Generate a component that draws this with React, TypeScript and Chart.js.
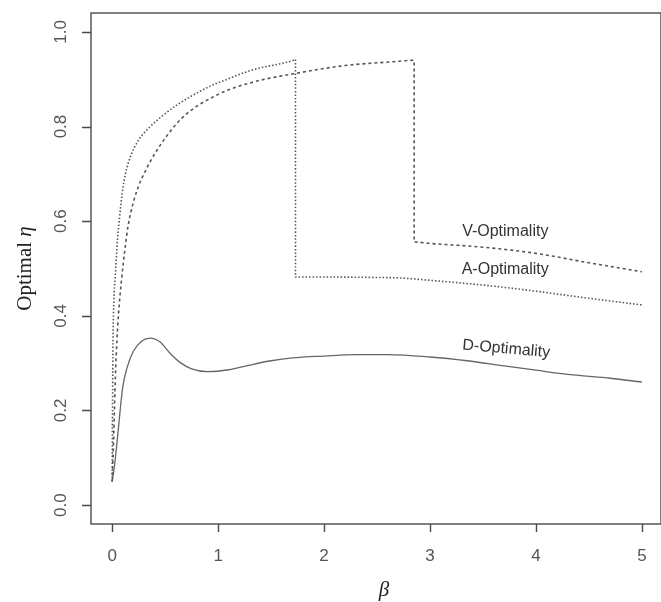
import React, { useEffect, useRef } from "react";
import { Chart, registerables } from "chart.js";

Chart.register(...registerables);

// A-Optimality (dotted, jumps at beta ~1.73)
const betaA = [0, 0.003, 0.008, 0.015, 0.028, 0.05, 0.075, 0.095, 0.125, 0.17, 0.245, 0.36, 0.47, 0.64, 0.76, 0.95, 1.04, 1.3, 1.4, 1.71, 1.73, 1.73, 2.0, 2.5, 2.72, 3.0, 3.5, 4.0, 4.5, 5.0];
const etaA = [0.05, 0.2, 0.35, 0.43, 0.48, 0.56, 0.62, 0.66, 0.7, 0.735, 0.77, 0.8, 0.822, 0.85, 0.866, 0.888, 0.896, 0.918, 0.924, 0.94, 0.942, 0.482, 0.482, 0.481, 0.48, 0.475, 0.465, 0.452, 0.437, 0.423];

// V-Optimality (dashed, jumps at beta ~2.85)
const betaV = [0, 0.015, 0.03, 0.045, 0.06, 0.09, 0.12, 0.15, 0.2, 0.25, 0.3, 0.4, 0.65, 1.0, 1.33, 1.7, 2.2, 2.65, 2.85, 2.85, 3.0, 3.5, 4.0, 4.5, 5.0];
const etaV = [0.05, 0.15, 0.27, 0.35, 0.405, 0.48, 0.54, 0.59, 0.64, 0.675, 0.7, 0.742, 0.816, 0.868, 0.894, 0.911, 0.929, 0.937, 0.94, 0.556, 0.553, 0.545, 0.532, 0.512, 0.493];

// D-Optimality (solid)
const betaD = [0, 0.02, 0.04, 0.075, 0.1, 0.14, 0.2, 0.28, 0.36, 0.45, 0.55, 0.65, 0.75, 0.9, 1.1, 1.3, 1.5, 1.7, 2.0, 2.3, 2.6, 3.0, 3.35, 3.7, 4.0, 4.35, 4.7, 5.0];
const etaD = [0.05, 0.08, 0.12, 0.2, 0.25, 0.29, 0.325, 0.347, 0.353, 0.345, 0.32, 0.3, 0.288, 0.282, 0.286, 0.296, 0.305, 0.311, 0.315, 0.318, 0.318, 0.313, 0.305, 0.294, 0.285, 0.275, 0.268, 0.26];

const xTicks = [0, 1, 2, 3, 4, 5];
const xTickLabels = ["0", "1", "2", "3", "4", "5"];
const yTicks = [0, 0.2, 0.4, 0.6, 0.8, 1.0];
const yTickLabels = ["0.0", "0.2", "0.4", "0.6", "0.8", "1.0"];

const curveLabels = ["V-Optimality", "A-Optimality", "D-Optimality"];
const curveLabelX = [3.71, 3.71, 3.72];
const curveLabelY = [0.579, 0.497, 0.33];

const xTitle = "β";
const yTitle = "Optimal ";
const yTitleSym = "η";

const toPts = (xs: number[], ys: number[]) => xs.map((v, i) => ({ x: v, y: ys[i] }));

const rAxesPlugin = {
  id: "rAxes",
  afterDraw(chart: any) {
    const { ctx, chartArea, scales } = chart;
    const { left, right, top, bottom } = chartArea;
    const xs = scales.x;
    const ys = scales.y;
    ctx.save();
    ctx.strokeStyle = "#4a4a4a";
    ctx.lineWidth = 1.4;
    ctx.strokeRect(left, top, right - left, bottom - top);
    ctx.beginPath();
    xTicks.forEach((v) => {
      const px = Math.round(xs.getPixelForValue(v)) + 0.5;
      ctx.moveTo(px, bottom);
      ctx.lineTo(px, bottom + 8);
    });
    yTicks.forEach((v) => {
      const py = Math.round(ys.getPixelForValue(v)) + 0.5;
      ctx.moveTo(left, py);
      ctx.lineTo(left - 9, py);
    });
    ctx.stroke();

    ctx.fillStyle = "#555";
    ctx.font = "17px 'Liberation Sans', Arial, sans-serif";
    ctx.textAlign = "center";
    ctx.textBaseline = "middle";
    xTicks.forEach((v, i) => {
      ctx.fillText(xTickLabels[i], xs.getPixelForValue(v), bottom + 32);
    });
    yTicks.forEach((v, i) => {
      ctx.save();
      ctx.translate(left - 30, ys.getPixelForValue(v));
      ctx.rotate(-Math.PI / 2);
      ctx.fillText(yTickLabels[i], 0, 0);
      ctx.restore();
    });

    // axis titles
    ctx.fillStyle = "#222";
    ctx.font = "italic 21px 'Liberation Serif', 'Times New Roman', serif";
    ctx.fillText(xTitle, (left + right) / 2 + 8, bottom + 66);

    ctx.save();
    ctx.translate(25, (top + bottom) / 2);
    ctx.rotate(-Math.PI / 2);
    ctx.font = "21px 'Liberation Serif', 'Times New Roman', serif";
    const w1 = ctx.measureText(yTitle).width;
    ctx.font = "italic 21px 'Liberation Serif', 'Times New Roman', serif";
    const w2 = ctx.measureText(yTitleSym).width;
    const start = -(w1 + w2) / 2;
    ctx.textAlign = "left";
    ctx.font = "21px 'Liberation Serif', 'Times New Roman', serif";
    ctx.fillText(yTitle, start, 0);
    ctx.font = "italic 21px 'Liberation Serif', 'Times New Roman', serif";
    ctx.fillText(yTitleSym, start + w1, 0);
    ctx.restore();

    // curve labels
    ctx.fillStyle = "#333";
    ctx.font = "16px 'Liberation Sans', Arial, sans-serif";
    ctx.textAlign = "center";
    curveLabels.forEach((t, i) => {
      const px = xs.getPixelForValue(curveLabelX[i]);
      const py = ys.getPixelForValue(curveLabelY[i]);
      ctx.save();
      ctx.translate(px, py);
      if (i === 2) ctx.rotate((5 * Math.PI) / 180);
      ctx.fillText(t, 0, 0);
      ctx.restore();
    });
    ctx.restore();
  },
};

export default function App() {
  const ref = useRef<HTMLCanvasElement | null>(null);
  useEffect(() => {
    if (!ref.current) return;
    const chart = new Chart(ref.current, {
      type: "line",
      data: {
        datasets: [
          {
            label: "A-Optimality",
            data: toPts(betaA, etaA),
            borderColor: "#555",
            borderWidth: 1.6,
            borderDash: [1.5, 2],
            pointRadius: 0,
            cubicInterpolationMode: "monotone",
            fill: false,
          },
          {
            label: "V-Optimality",
            data: toPts(betaV, etaV),
            borderColor: "#555",
            borderWidth: 1.6,
            borderDash: [3, 3],
            pointRadius: 0,
            cubicInterpolationMode: "monotone",
            fill: false,
          },
          {
            label: "D-Optimality",
            data: toPts(betaD, etaD),
            borderColor: "#666",
            borderWidth: 1.3,
            pointRadius: 0,
            cubicInterpolationMode: "monotone",
            fill: false,
          },
        ],
      },
      options: {
        animation: false,
        responsive: false,
        layout: { padding: { left: 91, right: 0, top: 13, bottom: 78 } },
        plugins: { legend: { display: false }, tooltip: { enabled: false } },
        scales: {
          x: { type: "linear", min: -0.2, max: 5.18, display: false },
          y: { type: "linear", min: -0.04, max: 1.04, display: false },
        },
      },
      plugins: [rAxesPlugin],
    });
    return () => chart.destroy();
  }, []);
  return (
    <div style={{ position: "absolute", left: 0, top: 0, width: 661, height: 602, background: "#fff" }}>
      <canvas ref={ref} width={661} height={602} style={{ display: "block" }} />
    </div>
  );
}
